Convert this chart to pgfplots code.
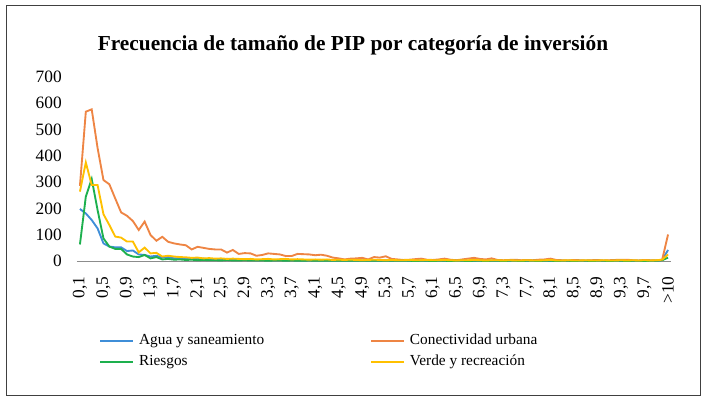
\documentclass[border=0pt]{standalone}
\usepackage{pgfplots}
\usepackage{pgfplotstable}
\pgfplotsset{compat=1.18}
\usepackage{fontspec}
\setmainfont{Liberation Serif}
\definecolor{cblue}{HTML}{3F8ED8}
\definecolor{corange}{HTML}{EE8544}
\definecolor{cgreen}{HTML}{1DB04E}
\definecolor{cyellow}{HTML}{FFC000}
\definecolor{cframe}{HTML}{404040}
\definecolor{caxis}{HTML}{8C8C8C}

\pgfplotstableread{
idx agua conect riesgos verde
0 198 286 63 264
1 181 568 245 375
2 156 577 312 289
3 124 430 194 289
4 67 308 86 178
5 55 292 55 137
6 52 238 46 93
7 52 185 46 89
8 38 172 25 74
9 40 152 17 74
10 25 118 15 33
11 23 150 23 51
12 17 99 10 29
13 20 77 15 31
14 13 92 6 17
15 15 73 8 20
16 10 67 5 17
17 11 63 6 15
18 9 60 4 14
19 8 44 5 12
20 7 54 3 13
21 9 50 4 10
22 6 46 3 11
23 7 44 3 9
24 5 44 2 10
25 8 32 4 8
26 5 42 2 9
27 6 27 2 8
28 4 30 3 7
29 5 29 2 8
30 3 20 2 6
31 4 23 2 7
32 4 29 1 8
33 3 27 2 6
34 5 25 2 7
35 3 19 1 8
36 4 19 2 6
37 3 27 1 7
38 2 26 1 6
39 3 25 2 5
40 3 22 1 6
41 2 24 1 5
42 3 20 1 6
43 2 13 1 4
44 3 10 1 5
45 2 6 1 4
46 2 9 1 5
47 3 10 1 4
48 2 12 1 3
49 3 6 1 4
50 2 15 1 5
51 2 13 1 4
52 3 18 1 3
53 2 8 1 4
54 2 6 1 3
55 1 4 1 3
56 2 5 1 4
57 2 7 0 3
58 1 9 1 3
59 2 5 1 4
60 2 4 0 3
61 1 6 1 3
62 2 9 1 4
63 1 5 0 3
64 2 3 1 2
65 1 6 1 3
66 1 9 0 3
67 2 12 1 4
68 1 8 1 3
69 1 6 0 2
70 2 10 1 3
71 1 4 1 3
72 1 3 0 2
73 1 4 1 3
74 2 5 1 2
75 1 3 0 2
76 1 4 1 3
77 1 3 1 2
78 1 5 0 2
79 2 6 1 3
80 1 9 1 4
81 1 4 0 2
82 1 3 1 2
83 1 2 1 3
84 1 4 0 2
85 1 3 1 2
86 1 2 1 3
87 2 3 0 2
88 1 4 1 2
89 1 2 1 3
90 1 3 0 2
91 1 4 1 2
92 1 5 1 3
93 1 5 0 2
94 1 3 1 3
95 1 2 1 2
96 1 4 0 3
97 1 3 1 2
98 2 2 1 3
99 4 5 3 5
100 42 101 13 25
}\datatable

\begin{document}
\begin{tikzpicture}
\useasboundingbox (0,0) rectangle (529.5pt,300.75pt);
\draw[cframe, line width=0.75pt] (4.5pt,4.5pt) rectangle (525pt,296.25pt);
\node[anchor=base, font=\fontsize{16}{19}\selectfont\bfseries, inner sep=0pt]
  at (264.75pt,263.25pt) {Frecuencia de tamaño de PIP por categoría de inversión};
\begin{axis}[
  at={(57.75pt,105pt)}, anchor=south west,
  scale only axis, width=445.5pt, height=138pt,
  xmin=-0.5, xmax=100.5, ymin=0, ymax=700,
  axis x line*=bottom, axis y line*=left,
  x axis line style={caxis, line width=0.75pt, -},
  y axis line style={draw=none},
  tick style={draw=none},
  ytick={0,100,...,700},
  xtick={0,4,...,96,100},
  xticklabels={{0,1},{0,5},{0,9},{1,3},{1,7},{2,1},{2,5},{2,9},{3,3},{3,7},{4,1},{4,5},{4,9},{5,3},{5,7},{6,1},{6,5},{6,9},{7,3},{7,7},{8,1},{8,5},{8,9},{9,3},{9,7},{>10}},
  /pgf/number format/assume math mode=true,
  every tick label/.append style={font=\fontsize{13}{15}\selectfont},
  yticklabel style={anchor=east, inner sep=0pt},
  yticklabel shift=11.25pt,
  xticklabel style={rotate=90, anchor=east, inner sep=0pt},
  xticklabel shift=11.5pt,
  legend columns=2,
  legend image code/.code={\draw[#1, line width=1.4pt] (0pt,0pt) -- (24.75pt,0pt);},
  legend style={at={(rel axis cs:0.03704,-0.4918)}, anchor=west, draw=none, fill=none,
    inner sep=0pt, font=\fontsize{11.5}{13}\selectfont,
    nodes={inner sep=0pt, text height=8pt, text depth=3pt},
    column sep=3.75pt, row sep=4.75pt},
  legend cell align=left,
]
\addplot[cblue, line width=1.4pt] table[x=idx, y=agua] {\datatable};
\addlegendentry{\makebox[169.5pt][l]{Agua y saneamiento}}
\addplot[corange, line width=1.4pt] table[x=idx, y=conect] {\datatable};
\addlegendentry{Conectividad urbana}
\addplot[cgreen, line width=1.4pt] table[x=idx, y=riesgos] {\datatable};
\addlegendentry{Riesgos}
\addplot[cyellow, line width=1.4pt] table[x=idx, y=verde] {\datatable};
\addlegendentry{Verde y recreación}
\end{axis}
\end{tikzpicture}
\end{document}
